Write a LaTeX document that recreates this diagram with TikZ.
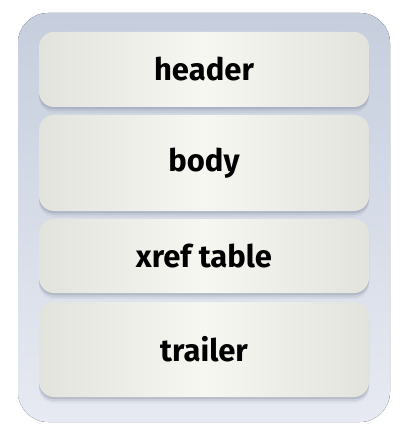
\documentclass[tikz,border=0pt]{standalone}
\usepackage{fontspec}
\setmainfont{Fira Sans}
\usetikzlibrary{shadows}
\definecolor{outtop}{HTML}{C6CEDD}
\definecolor{outbot}{HTML}{E7EAF2}
\definecolor{boxedge}{HTML}{E3E3DD}
\definecolor{boxmid}{HTML}{F7F7F2}
\definecolor{shadowc}{HTML}{8E96AA}
\tikzset{
  part/.style={rounded corners=15pt, minimum width=330pt, inner sep=0pt,
    left color=boxedge, right color=boxedge, middle color=boxmid,
    font=\fontsize{31}{33}\selectfont\bfseries, text=black,
    drop shadow={shadow xshift=0pt, shadow yshift=-2pt, fill=shadowc, opacity=0.35},
    drop shadow={shadow xshift=0pt, shadow yshift=-4pt, fill=shadowc, opacity=0.2},
    drop shadow={shadow xshift=0pt, shadow yshift=-6pt, fill=shadowc, opacity=0.1}},
  container/.style={rounded corners=30pt, top color=outtop, bottom color=outbot, draw=none}
}
\begin{document}
\begin{tikzpicture}[x=1pt,y=1pt]
\useasboundingbox (0,0) rectangle (410,-438);
\fill[container] (18,-13) rectangle (390,-422);
\node[part, minimum height=75pt] (header) at (204,-69.5) {header};
\node[part, minimum height=96pt] (body) at (204,-163) {body};
\node[part, minimum height=74pt] (xref) at (204,-256) {xref table};
\node[part, minimum height=95pt] (trailer) at (204,-349.5) {trailer};
\end{tikzpicture}
\end{document}
